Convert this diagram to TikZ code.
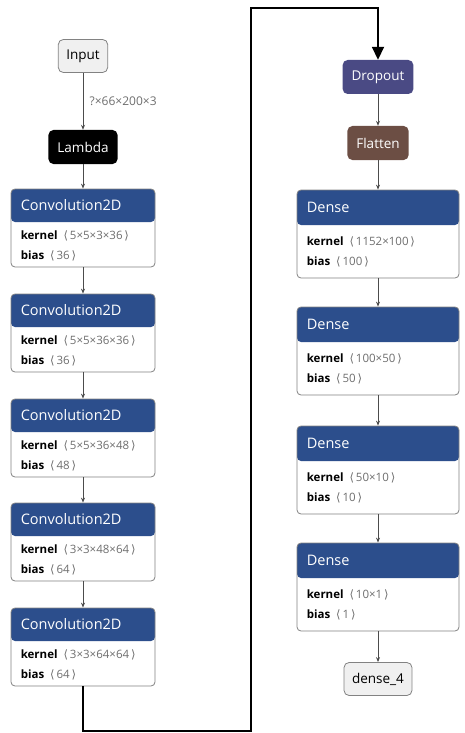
\documentclass[tikz,border=0pt]{standalone}
\usepackage{fontspec}
\setmainfont{Open Sans}
\newfontfamily\symf{DejaVu Sans}
\usetikzlibrary{arrows.meta}

\definecolor{headblue}{RGB}{44,78,140}
\definecolor{dropblue}{RGB}{74,74,132}
\definecolor{flatbrown}{RGB}{108,78,68}
\definecolor{boxgray}{RGB}{130,130,130}
\definecolor{textgray}{RGB}{110,110,110}

\tikzset{
	layer/.style={draw=boxgray, fill=white, line width=0.8pt, rounded corners=4pt},
	convbox/.style={layer, minimum width=144pt, minimum height=78pt,
		path picture={\fill[headblue] (path picture bounding box.north west) rectangle ([yshift=-33pt]path picture bounding box.north east);}},
	densebox/.style={layer, minimum width=162pt, minimum height=88pt,
		path picture={\fill[headblue] (path picture bounding box.north west) rectangle ([yshift=-35pt]path picture bounding box.north east);}},
	title/.style={inner sep=0pt, text=white, font=\fontsize{14.5}{16}\selectfont},
	param/.style={inner sep=0pt, align=left, font=\fontsize{11.5}{19.5}\selectfont},
	io/.style={draw=boxgray, fill=gray!12, line width=0.8pt, rounded corners=5pt, minimum height=33pt, inner xsep=8pt, font=\fontsize{13.5}{15}\selectfont},
	op/.style={rounded corners=5pt, minimum height=34pt, inner xsep=9pt, text=white, font=\fontsize{13.5}{15}\selectfont},
	flow/.style={draw=black!70, line width=0.8pt, -{Stealth[length=5pt,width=4pt]}}
}

% shape in brackets
\newcommand{\shp}[1]{{\color{textgray}{\symf\char"27E8}\,#1\,{\symf\char"27E9}}}
% box with header, kernel and bias
\newcommand{\layer}[8]{%
	\node[#2] (#1) at #3 {};
	\node[title, anchor=west] at ([xshift=10pt, yshift=-#4pt/2]#1.north west) {#6};
	\node[param, anchor=north west] at ([xshift=10pt, yshift=-#4pt-#5pt]#1.north west) {\textbf{kernel}\ \ \shp{#7}\\\textbf{bias}\ \ \shp{#8}};
}

\begin{document}
\begin{tikzpicture}[x=1pt, y=-1pt]
	\useasboundingbox (0,0) rectangle (464,733);

	% left column
	\node[io] (in) at (83,56) {Input};
	\node[op, fill=black] (lam) at (83,147) {Lambda};
	\layer{c1}{convbox}{(83,228)}{33}{9}{Convolution2D}{5×5×3×36}{36}
	\layer{c2}{convbox}{(83,333)}{33}{9}{Convolution2D}{5×5×36×36}{36}
	\layer{c3}{convbox}{(83,438)}{33}{9}{Convolution2D}{5×5×36×48}{48}
	\layer{c4}{convbox}{(83,542)}{33}{9}{Convolution2D}{3×3×48×64}{64}
	\layer{c5}{convbox}{(83,647)}{33}{9}{Convolution2D}{3×3×64×64}{64}

	% right column
	\node[op, fill=dropblue] (drop) at (378,77) {Dropout};
	\node[op, fill=flatbrown] (flat) at (378,143) {Flatten};
	\layer{d1}{densebox}{(378,234)}{35}{12}{Dense}{1152×100}{100}
	\layer{d2}{densebox}{(378,351)}{35}{12}{Dense}{100×50}{50}
	\layer{d3}{densebox}{(378,470)}{35}{12}{Dense}{50×10}{10}
	\layer{d4}{densebox}{(378,587)}{35}{12}{Dense}{10×1}{1}
	\node[io] (out) at (378,679) {dense\_4};

	\draw[flow] (in) -- node[right, xshift=3pt, text=textgray, font=\fontsize{12}{14}\selectfont] {?×66×200×3} (lam);
	\draw[flow] (lam) -- (c1);
	\draw[flow] (c1) -- (c2);
	\draw[flow] (c2) -- (c3);
	\draw[flow] (c3) -- (c4);
	\draw[flow] (c4) -- (c5);
	\draw[flow] (drop) -- (flat);
	\draw[flow] (flat) -- (d1);
	\draw[flow] (d1) -- (d2);
	\draw[flow] (d2) -- (d3);
	\draw[flow] (d3) -- (d4);
	\draw[flow] (d4) -- (out);

	% jump between columns
	\coordinate (bl) at (251,731);
	\coordinate (tl) at (251,8);
	\draw[line width=1.8pt, -{Triangle[length=13pt,width=12pt]}] (c5.south) |- (bl) -- (tl) -| (drop.north);
\end{tikzpicture}
\end{document}
